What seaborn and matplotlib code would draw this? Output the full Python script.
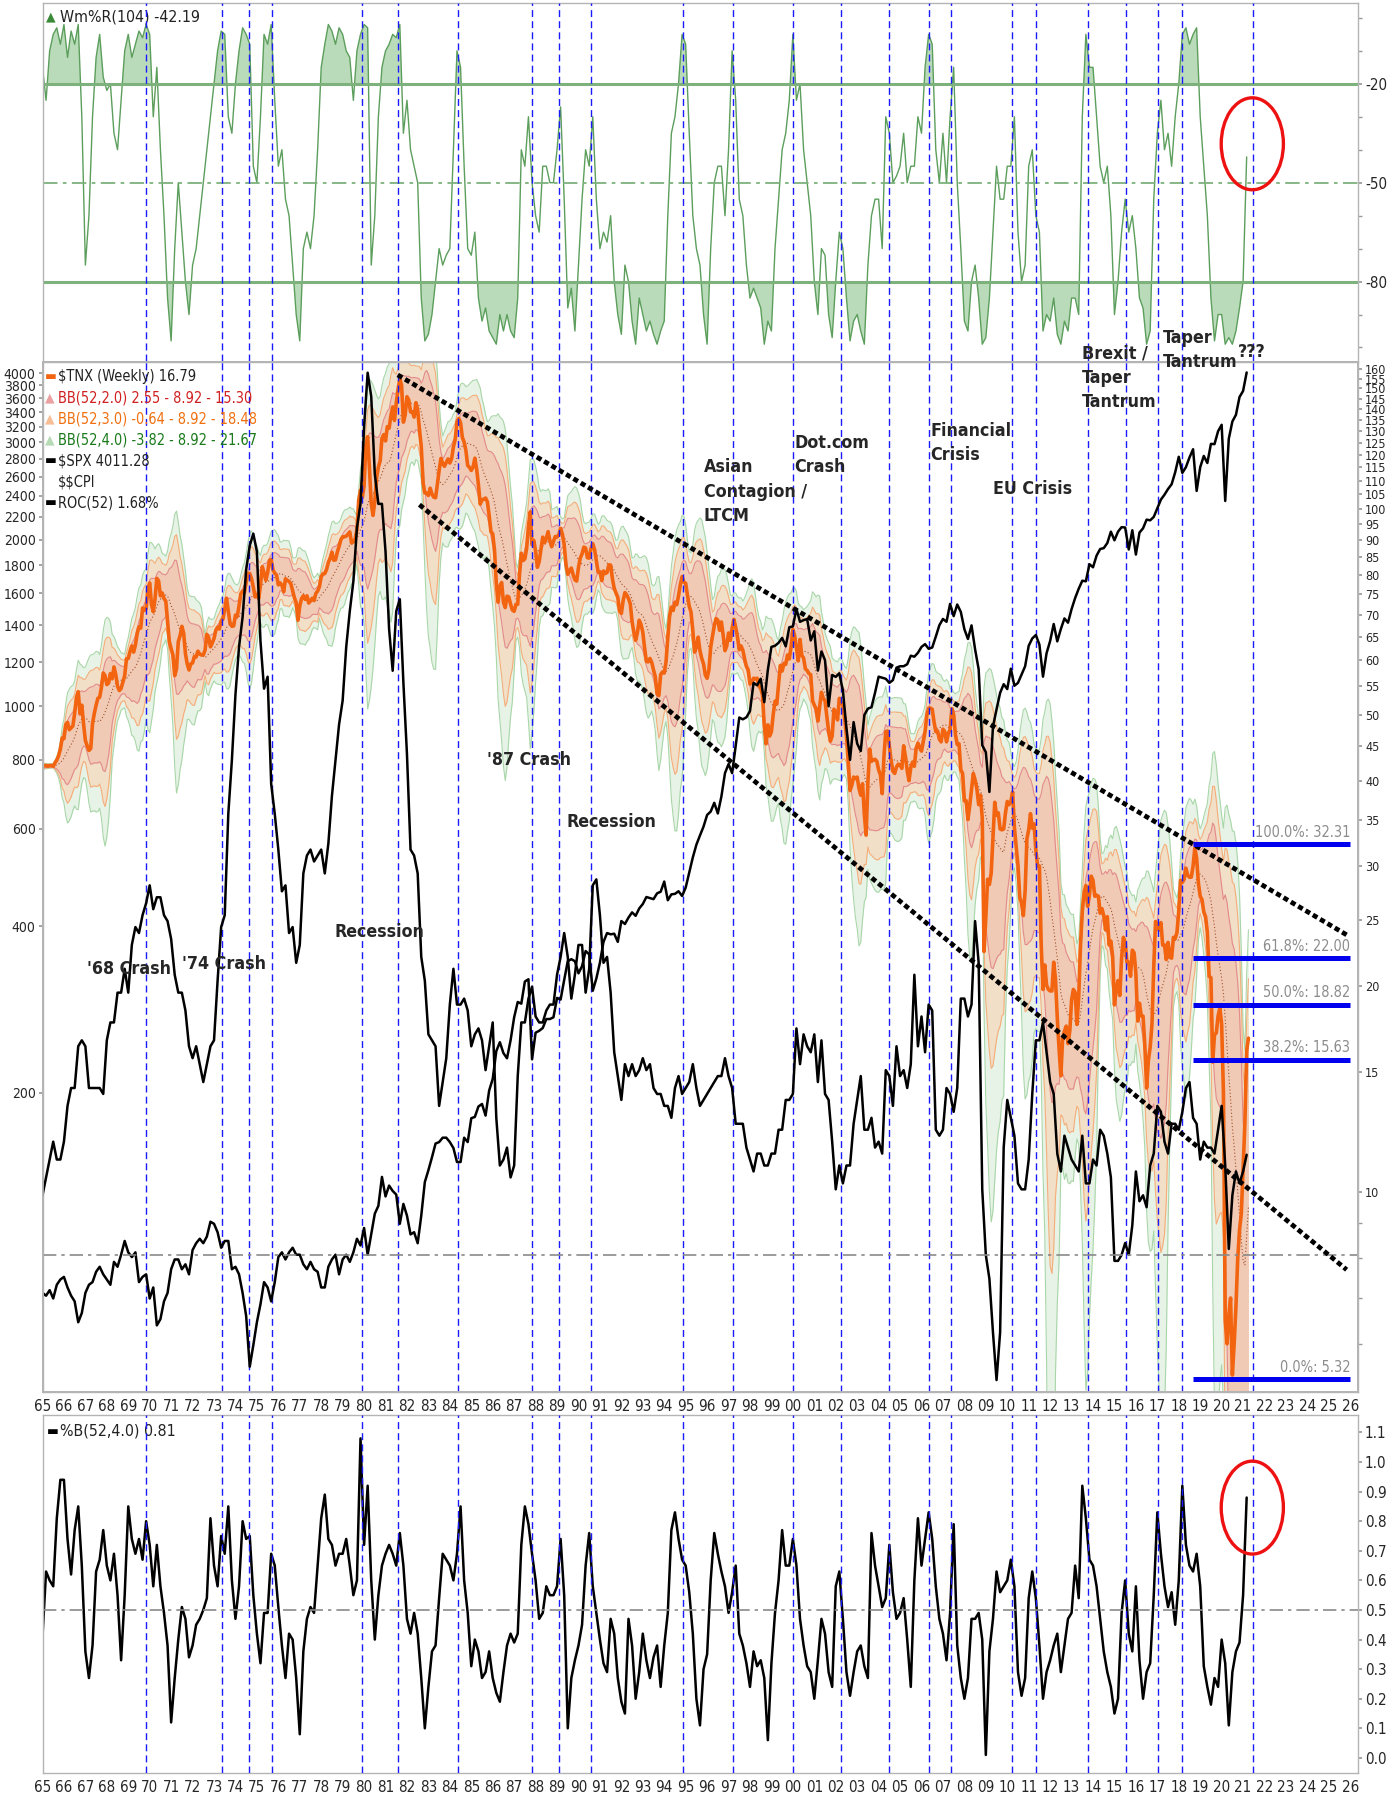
import numpy as np
import pandas as pd
import seaborn as sns
import matplotlib.pyplot as plt
import matplotlib.ticker as mticker
from matplotlib import font_manager
from matplotlib.patches import Ellipse

sns.set_theme(style="white")

# the original chart uses a squeezed sans; take the narrowest one installed
_fonts = font_manager.fontManager.ttflist
_names = {f.name for f in _fonts}
if 'Liberation Sans Narrow' in _names:
    NARROW_FAM, STRETCH, FS = 'Liberation Sans Narrow', 'normal', 1.0
elif any(f.name == 'DejaVu Sans' and f.stretch == 'condensed' for f in _fonts):
    NARROW_FAM, STRETCH, FS = 'DejaVu Sans', 'condensed', 0.95
else:
    NARROW_FAM, STRETCH, FS = 'Liberation Sans', 'normal', 0.92
plt.rcParams['font.family'] = [NARROW_FAM, 'DejaVu Sans']
plt.rcParams['font.stretch'] = STRETCH

# ---------------------------------------------------------------------------
# Data
# $TNX (10y yield x10), monthly from Jan 1965
tnx = [
    41.9, 42.1, 42.1, 42.0, 42.1, 42.1, 42.0, 42.5, 42.9, 43.5, 44.5, 46.2,
    46.1, 48.3, 48.7, 47.5, 47.8, 48.1, 50.2, 53.0, 54.0, 50.1, 51.6, 48.4,
    45.8, 45.0, 44.3, 44.6, 48.5, 50.2, 51.6, 52.8, 53.0, 54.8, 57.5, 57.0,
    55.3, 55.6, 57.4, 56.4, 58.7, 57.2, 55.0, 54.2, 54.6, 55.8, 57.0, 60.3,
    60.4, 61.9, 63.0, 61.7, 63.2, 65.7, 67.2, 66.9, 71.6, 71.0, 71.4, 76.5,
    77.9, 72.4, 70.7, 73.9, 79.1, 78.4, 74.6, 75.3, 73.9, 73.3, 68.4, 63.9,
    62.4, 61.1, 57.0, 58.3, 63.9, 65.2, 67.3, 65.8, 61.4, 59.3, 58.1, 59.3,
    59.5, 60.8, 60.7, 61.9, 61.3, 61.1, 61.1, 62.1, 65.5, 64.8, 62.8, 63.6,
    64.6, 66.4, 67.1, 66.7, 68.5, 69.0, 71.3, 74.0, 70.9, 67.9, 67.3, 67.4,
    69.9, 69.6, 72.1, 75.1, 75.8, 75.4, 78.1, 80.4, 80.4, 79.0, 76.8, 74.3,
    75.0, 73.9, 77.3, 82.3, 80.6, 78.6, 80.6, 84.0, 84.3, 81.4, 80.5, 80.0,
    77.4, 77.9, 77.3, 75.6, 79.0, 78.6, 78.3, 77.7, 75.9, 74.1, 72.9, 68.7,
    72.1, 73.9, 74.6, 73.7, 74.6, 72.8, 73.3, 74.0, 73.4, 75.2, 75.8, 76.9,
    79.6, 80.3, 80.4, 81.5, 83.5, 84.6, 86.4, 84.1, 84.2, 86.4, 88.1, 90.1,
    91.0, 91.0, 91.2, 91.8, 92.5, 89.1, 89.5, 90.3, 93.3, 103.0, 106.5, 103.9,
    108.0, 124.1, 127.5, 114.7, 101.8, 97.8, 102.5, 111.0, 115.1, 117.5, 126.8, 128.4,
    125.7, 131.9, 131.2, 136.8, 141.0, 134.7, 142.8, 149.4, 155.0, 151.5, 133.9, 137.2,
    145.9, 144.3, 138.6, 138.7, 136.2, 143.0, 139.5, 130.6, 123.4, 109.1, 105.5, 105.4,
    104.6, 107.2, 105.1, 104.0, 103.8, 108.5, 113.8, 118.5, 116.5, 115.4, 116.9, 118.3,
    116.7, 118.4, 123.2, 126.3, 134.1, 135.6, 133.6, 127.2, 125.2, 121.6, 115.7, 115.0,
    113.8, 115.1, 118.6, 114.3, 108.5, 101.6, 103.1, 103.3, 103.7, 102.4, 97.8, 92.6,
    91.9, 87.0, 77.8, 73.0, 77.1, 78.0, 73.0, 71.7, 74.5, 74.3, 72.5, 71.1,
    70.8, 72.5, 72.5, 80.2, 86.1, 84.0, 84.5, 87.6, 94.2, 99.0, 88.6, 89.9,
    86.7, 82.1, 83.7, 87.2, 90.9, 89.2, 90.6, 92.6, 89.8, 88.0, 89.6, 91.1,
    90.9, 91.7, 93.6, 91.8, 88.6, 82.8, 80.2, 81.1, 81.9, 80.1, 78.7, 78.4,
    82.1, 84.7, 85.9, 87.9, 87.6, 84.8, 84.7, 87.5, 88.9, 87.2, 83.9, 80.8,
    80.9, 78.5, 81.1, 80.4, 80.7, 82.8, 82.7, 79.0, 76.5, 75.3, 74.2, 70.9,
    70.3, 73.4, 75.4, 74.8, 73.9, 72.6, 68.4, 65.9, 64.2, 65.9, 68.7, 67.7,
    66.0, 62.6, 59.8, 59.7, 60.4, 59.6, 58.1, 56.8, 53.6, 53.3, 57.2, 57.7,
    57.5, 59.7, 64.8, 69.7, 71.8, 71.0, 73.0, 72.4, 74.6, 77.4, 79.6, 78.1,
    77.8, 74.7, 72.0, 70.6, 66.3, 61.7, 62.8, 64.9, 62.0, 60.4, 59.3, 57.1,
    56.5, 58.1, 62.7, 65.1, 67.4, 69.1, 68.7, 66.4, 68.3, 65.3, 62.0, 63.0,
    65.8, 64.2, 66.9, 68.9, 67.1, 64.9, 62.2, 63.0, 62.1, 60.3, 58.8, 58.1,
    55.4, 55.7, 56.5, 56.4, 56.5, 55.0, 54.6, 53.4, 48.1, 45.3, 48.3, 46.5,
    47.2, 50.0, 52.3, 51.8, 55.4, 59.0, 57.9, 59.4, 59.2, 61.1, 60.3, 62.8,
    66.6, 65.2, 62.6, 59.9, 64.4, 61.0, 60.5, 58.3, 58.0, 57.4, 57.2, 52.4,
    51.6, 51.0, 48.9, 51.4, 53.9, 52.8, 52.4, 49.7, 47.3, 45.7, 46.5, 50.9,
    50.4, 49.1, 52.8, 52.1, 51.6, 49.3, 46.5, 42.6, 38.7, 39.4, 40.5, 40.3,
    40.5, 39.0, 38.1, 39.6, 35.7, 33.3, 39.8, 44.5, 42.7, 42.9, 43.0, 42.7,
    41.5, 40.8, 38.3, 43.5, 47.2, 47.3, 45.0, 42.8, 41.3, 41.0, 41.9, 42.3,
    42.2, 41.7, 45.0, 43.4, 41.4, 40.0, 41.8, 42.6, 42.0, 44.6, 45.4, 44.7,
    44.2, 45.7, 47.2, 49.9, 51.1, 51.1, 50.9, 48.8, 47.2, 47.3, 46.0, 45.6,
    47.6, 47.2, 45.6, 46.9, 47.5, 51.0, 50.0, 46.7, 45.2, 45.3, 41.5, 41.0,
    37.4, 37.4, 35.1, 36.8, 38.8, 41.0, 40.1, 38.9, 36.9, 38.1, 35.3, 22.5,
    25.2, 28.7, 28.2, 29.3, 32.9, 37.2, 35.6, 35.9, 34.0, 33.9, 34.0, 35.9,
    37.3, 36.9, 37.3, 38.5, 34.2, 32.0, 30.1, 27.0, 26.5, 25.4, 27.6, 32.9,
    33.9, 35.8, 34.1, 34.6, 31.7, 30.0, 30.0, 23.0, 19.8, 21.5, 20.1, 19.8,
    19.7, 19.7, 21.7, 20.5, 18.0, 16.2, 14.8, 16.8, 17.2, 17.5, 16.5, 17.2,
    19.1, 19.8, 19.6, 17.6, 19.3, 23.0, 25.8, 27.4, 28.1, 26.2, 27.2, 29.0,
    28.6, 27.1, 27.2, 27.1, 25.6, 26.0, 25.4, 24.2, 25.3, 23.0, 23.3, 22.1,
    18.8, 19.8, 20.4, 19.4, 22.0, 23.6, 23.2, 21.7, 21.7, 20.7, 22.6, 22.4,
    20.9, 17.8, 18.9, 18.1, 18.1, 16.4, 14.2, 15.6, 16.3, 17.6, 21.4, 24.9,
    24.3, 24.2, 24.8, 23.0, 23.0, 21.9, 23.2, 22.1, 22.0, 23.6, 23.5, 24.0,
    25.8, 28.6, 28.4, 28.7, 29.8, 29.1, 28.9, 28.9, 30.0, 31.9, 30.8, 28.3,
    27.1, 26.8, 25.7, 25.3, 24.0, 20.7, 20.6, 15.5, 17.0, 17.1, 18.1, 18.6,
    17.6, 14.0, 6.5, 6.0, 6.6, 7.0, 5.4, 6.0, 6.8, 8.0, 8.8, 9.3,
    10.8, 12.6, 16.1, 16.8,
]

# $SPX, every two months from Jan 1965
spx = [
    87, 86, 88, 85, 90, 92,
    93, 89, 86, 84, 77, 80,
    87, 90, 91, 95, 97, 94,
    92, 90, 99, 97, 102, 108,
    103, 101, 103, 91, 93, 94,
    85, 89, 76, 78, 84, 87,
    96, 100, 100, 96, 98, 94,
    104, 107, 109, 107, 110, 117,
    116, 112, 105, 108, 108, 96,
    97, 94, 87, 79, 64, 70,
    77, 83, 91, 89, 84, 91,
    101, 103, 100, 103, 105, 102,
    102, 98, 96, 99, 96, 95,
    89, 89, 97, 100, 102, 94,
    100, 102, 99, 103, 109, 106,
    114, 102, 111, 121, 125, 141,
    130, 136, 133, 131, 116, 126,
    120, 111, 112, 107, 120, 138,
    145, 153, 162, 163, 166, 166,
    163, 159, 150, 150, 166, 163,
    180, 181, 189, 191, 182, 202,
    212, 238, 247, 236, 231, 249,
    274, 292, 290, 318, 321, 230,
    257, 259, 262, 272, 272, 274,
    297, 295, 320, 346, 349, 346,
    329, 339, 361, 356, 306, 322,
    344, 375, 389, 387, 388, 375,
    409, 404, 415, 424, 418, 431,
    439, 452, 450, 448, 459, 462,
    482, 446, 457, 458, 463, 454,
    470, 501, 533, 562, 584, 606,
    636, 645, 669, 640, 687, 757,
    786, 757, 848, 954, 947, 955,
    980, 1102, 1091, 1121, 1017, 1164,
    1280, 1286, 1302, 1329, 1283, 1389,
    1394, 1499, 1421, 1431, 1437, 1315,
    1366, 1160, 1256, 1211, 1000, 1139,
    1130, 1147, 1067, 912, 800, 936,
    856, 830, 964, 990, 996, 1058,
    1131, 1126, 1121, 1102, 1115, 1174,
    1181, 1181, 1191, 1234, 1229, 1249,
    1280, 1295, 1270, 1277, 1336, 1401,
    1438, 1421, 1531, 1455, 1527, 1481,
    1378, 1323, 1400, 1267, 1166, 850,
    826, 700, 919, 987, 1057, 1096,
    1074, 1169, 1089, 1102, 1141, 1181,
    1286, 1326, 1345, 1292, 1131, 1247,
    1312, 1408, 1310, 1379, 1441, 1416,
    1498, 1569, 1631, 1686, 1682, 1806,
    1783, 1872, 1924, 1931, 1972, 2068,
    1995, 2068, 2107, 2104, 1920, 2080,
    1880, 2060, 2097, 2174, 2168, 2199,
    2279, 2363, 2412, 2470, 2519, 2648,
    2824, 2641, 2705, 2816, 2914, 2450,
    2704, 2834, 2752, 2980, 2977, 3141,
    3226, 2350, 3044, 3271, 3363, 3622,
    3714, 4011.28,
]

# $$CPI ROC(52) in %, every two months from Jan 1965
cpi_roc = [
    1.0, 1.3, 1.6, 1.9, 1.6, 1.6,
    1.9, 2.5, 2.8, 2.8, 3.5, 3.6,
    3.5, 2.8, 2.8, 2.8, 2.8, 2.7,
    3.6, 3.9, 3.9, 4.4, 4.4, 4.8,
    4.4, 5.2, 5.5, 5.4, 5.7, 5.9,
    6.2, 5.8, 6.0, 6.0, 5.7, 5.6,
    5.3, 4.7, 4.4, 4.4, 4.1, 3.5,
    3.3, 3.5, 3.2, 2.9, 3.2, 3.5,
    3.6, 4.6, 5.5, 5.7, 7.4, 8.3,
    9.4, 10.2, 10.7, 11.5, 11.9, 12.1,
    11.8, 10.3, 9.5, 9.7, 7.9, 7.4,
    6.8, 6.1, 6.2, 5.4, 5.5, 4.9,
    5.2, 6.4, 6.7, 6.8, 6.6, 6.7,
    6.8, 6.4, 6.9, 7.7, 8.3, 8.9,
    9.3, 10.2, 10.8, 11.3, 12.2, 12.6,
    13.9, 14.8, 14.4, 13.1, 12.6, 12.6,
    11.8, 10.5, 9.8, 10.8, 11.0, 9.6,
    8.4, 6.8, 6.7, 6.4, 5.0, 4.6,
    3.7, 3.6, 3.5, 2.5, 2.9, 3.3,
    4.2, 4.8, 4.2, 4.2, 4.3, 4.1,
    3.5, 3.7, 3.8, 3.6, 3.1, 3.5,
    3.9, 2.3, 1.5, 1.6, 1.8, 1.3,
    1.5, 3.0, 3.9, 3.9, 4.3, 4.5,
    4.0, 3.9, 3.9, 4.1, 4.2, 4.2,
    4.7, 5.0, 5.4, 5.0, 4.3, 4.7,
    5.2, 5.2, 4.4, 4.8, 6.2, 6.3,
    5.7, 4.9, 5.0, 4.4, 3.4, 3.0,
    2.6, 3.2, 3.0, 3.2, 3.0, 3.1,
    3.3, 3.1, 3.2, 2.8, 2.7, 2.7,
    2.5, 2.5, 2.3, 2.8, 3.0, 2.7,
    2.8, 2.9, 3.2, 2.8, 2.5, 2.6,
    2.7, 2.8, 2.9, 3.0, 3.0, 3.3,
    3.0, 2.8, 2.2, 2.2, 2.2, 1.8,
    1.6, 1.4, 1.7, 1.7, 1.5, 1.5,
    1.7, 1.7, 2.1, 2.1, 2.6, 2.6,
    2.7, 3.8, 3.2, 3.7, 3.5, 3.4,
    3.7, 2.9, 3.6, 2.7, 2.6, 1.9,
    1.1, 1.5, 1.2, 1.5, 1.5, 2.2,
    2.6, 3.0, 2.1, 2.1, 2.3, 1.8,
    1.9, 1.7, 3.1, 3.0, 2.5, 3.5,
    3.0, 3.1, 2.8, 3.2, 4.7, 3.5,
    4.0, 3.4, 4.2, 4.1, 2.1, 2.0,
    2.1, 2.8, 2.7, 2.4, 2.8, 4.3,
    4.3, 4.0, 4.2, 5.6, 4.9, 1.1,
    0.0, -0.4, -1.3, -2.1, -1.3, 1.8,
    2.6, 2.3, 2.0, 1.2, 1.1, 1.1,
    1.6, 2.7, 3.6, 3.6, 3.9, 3.4,
    2.9, 2.7, 1.7, 1.4, 2.0, 1.8,
    1.6, 1.5, 1.4, 2.0, 1.2, 1.2,
    1.6, 1.5, 2.1, 2.0, 1.7, 1.3,
    -0.1, -0.1, 0.0, 0.2, 0.0, 0.5,
    1.4, 0.9, 1.0, 0.8, 1.5, 1.7,
    2.5, 2.4, 1.9, 1.7, 2.2, 2.2,
    2.1, 2.4, 2.8, 2.9, 2.3, 2.2,
    1.6, 1.9, 1.8, 1.8, 1.7, 2.1,
    2.5, 1.5, 0.1, 1.0, 1.4, 1.2,
    1.4, 1.68,
]

# Wm%R(104), every two months from Jan 1965
wm_r = [
    -15, -25, -10, -5, -3, -8,
    -2, -12, -4, -8, -2, -30,
    -75, -60, -30, -12, -5, -18,
    -22, -20, -35, -40, -25, -10,
    -5, -12, -8, -4, -6, -2,
    -5, -30, -15, -40, -60, -85,
    -98, -70, -50, -65, -80, -90,
    -75, -70, -60, -50, -40, -30,
    -20, -10, -4, -5, -30, -35,
    -20, -10, -3, -5, -8, -45,
    -50, -30, -5, -8, -2, -25,
    -45, -40, -55, -60, -75, -90,
    -98, -70, -65, -70, -60, -40,
    -15, -8, -2, -4, -8, -3,
    -5, -10, -12, -25, -10, -5,
    -2, -3, -75, -60, -30, -15,
    -10, -8, -5, -6, -2, -35,
    -25, -40, -45, -50, -85, -98,
    -96, -90, -80, -70, -75, -72,
    -70, -40, -10, -15, -45, -70,
    -72, -65, -85, -92, -88, -95,
    -97, -99, -90, -95, -90, -95,
    -97, -85, -40, -45, -30, -50,
    -60, -65, -45, -45, -50, -50,
    -40, -27, -55, -88, -82, -95,
    -75, -55, -40, -45, -30, -55,
    -70, -65, -68, -60, -80, -90,
    -96, -75, -80, -92, -99, -85,
    -90, -95, -92, -96, -99, -95,
    -92, -60, -35, -30, -20, -5,
    -8, -35, -60, -70, -75, -90,
    -99, -70, -50, -45, -45, -60,
    -40, -10, -25, -55, -60, -75,
    -85, -82, -85, -88, -99, -92,
    -95, -70, -55, -40, -35, -25,
    -5, -25, -20, -40, -50, -60,
    -80, -90, -70, -72, -90, -97,
    -80, -65, -70, -85, -98, -92,
    -90, -95, -99, -75, -60, -55,
    -55, -70, -30, -35, -50, -48,
    -45, -35, -50, -45, -45, -30,
    -35, -15, -5, -8, -40, -50,
    -35, -50, -30, -15, -50, -70,
    -92, -95, -80, -75, -85, -99,
    -97, -85, -65, -45, -55, -55,
    -45, -45, -30, -65, -80, -75,
    -45, -40, -60, -65, -95, -90,
    -92, -85, -96, -99, -92, -95,
    -85, -85, -90, -30, -5, -15,
    -15, -30, -45, -50, -45, -60,
    -90, -80, -65, -55, -65, -60,
    -70, -85, -88, -99, -95, -55,
    -35, -25, -40, -35, -45, -30,
    -20, -5, -3, -8, -5, -3,
    -30, -45, -60, -85, -98, -90,
    -90, -99, -97, -99, -95, -88,
    -80, -42.19,
]

# %B(52,4.0), every two months from Jan 1965
pct_b = [
    0.41, 0.63, 0.60, 0.58, 0.81, 0.94,
    0.94, 0.74, 0.62, 0.77, 0.85, 0.65,
    0.36, 0.27, 0.38, 0.63, 0.67, 0.77,
    0.65, 0.60, 0.69, 0.55, 0.33, 0.55,
    0.85, 0.74, 0.69, 0.74, 0.67, 0.80,
    0.72, 0.58, 0.72, 0.58, 0.49, 0.38,
    0.12, 0.27, 0.40, 0.51, 0.47, 0.34,
    0.38, 0.45, 0.47, 0.50, 0.54, 0.81,
    0.65, 0.58, 0.75, 0.69, 0.85, 0.60,
    0.47, 0.58, 0.80, 0.74, 0.75, 0.55,
    0.42, 0.32, 0.49, 0.49, 0.69, 0.65,
    0.51, 0.38, 0.27, 0.42, 0.40, 0.27,
    0.08, 0.36, 0.47, 0.51, 0.49, 0.65,
    0.81, 0.89, 0.74, 0.72, 0.65, 0.69,
    0.69, 0.74, 0.65, 0.55, 0.60, 1.08,
    0.72, 0.92, 0.60, 0.40, 0.55, 0.65,
    0.69, 0.72, 0.69, 0.65, 0.76, 0.65,
    0.47, 0.42, 0.49, 0.42, 0.27, 0.10,
    0.24, 0.36, 0.38, 0.54, 0.69, 0.67,
    0.65, 0.60, 0.69, 0.85, 0.60, 0.49,
    0.31, 0.40, 0.36, 0.27, 0.29, 0.36,
    0.27, 0.22, 0.19, 0.29, 0.38, 0.42,
    0.39, 0.42, 0.72, 0.85, 0.79, 0.69,
    0.60, 0.47, 0.49, 0.58, 0.55, 0.55,
    0.58, 0.74, 0.55, 0.10, 0.27, 0.33,
    0.38, 0.45, 0.65, 0.76, 0.58, 0.49,
    0.40, 0.32, 0.29, 0.47, 0.42, 0.27,
    0.19, 0.15, 0.47, 0.38, 0.20, 0.29,
    0.42, 0.33, 0.27, 0.34, 0.38, 0.24,
    0.38, 0.49, 0.77, 0.83, 0.74, 0.67,
    0.65, 0.56, 0.42, 0.20, 0.11, 0.30,
    0.35, 0.60, 0.76, 0.69, 0.63, 0.58,
    0.49, 0.56, 0.65, 0.42, 0.38, 0.32,
    0.24, 0.36, 0.31, 0.33, 0.27, 0.06,
    0.32, 0.49, 0.60, 0.77, 0.65, 0.65,
    0.74, 0.65, 0.47, 0.38, 0.31, 0.29,
    0.20, 0.33, 0.47, 0.42, 0.29, 0.24,
    0.58, 0.63, 0.47, 0.29, 0.21, 0.29,
    0.36, 0.38, 0.31, 0.27, 0.76, 0.65,
    0.58, 0.51, 0.54, 0.72, 0.56, 0.47,
    0.49, 0.54, 0.40, 0.24, 0.60, 0.81,
    0.65, 0.74, 0.83, 0.74, 0.58, 0.47,
    0.42, 0.33, 0.49, 0.79, 0.38, 0.27,
    0.20, 0.27, 0.47, 0.47, 0.49, 0.40,
    0.01, 0.36, 0.47, 0.63, 0.56, 0.58,
    0.60, 0.67, 0.58, 0.29, 0.21, 0.27,
    0.54, 0.63, 0.54, 0.38, 0.20, 0.29,
    0.33, 0.38, 0.42, 0.29, 0.38, 0.47,
    0.49, 0.65, 0.54, 0.92, 0.81, 0.67,
    0.65, 0.58, 0.47, 0.36, 0.29, 0.24,
    0.15, 0.20, 0.49, 0.60, 0.42, 0.36,
    0.58, 0.33, 0.20, 0.29, 0.32, 0.55,
    0.83, 0.69, 0.58, 0.51, 0.56, 0.45,
    0.60, 0.92, 0.72, 0.65, 0.63, 0.69,
    0.58, 0.31, 0.24, 0.18, 0.27, 0.24,
    0.40, 0.32, 0.11, 0.29, 0.36, 0.39,
    0.55, 0.88,
]

# marked TNX peaks (blue dashed verticals), decimal years
event_years = [1969.81, 1973.37, 1974.65, 1975.69, 1979.9, 1981.57, 1984.4,
               1987.85, 1989.11, 1990.58, 1994.88, 1997.19, 2000.0, 2002.24,
               2004.5, 2006.35, 2007.37, 2010.23, 2011.34, 2013.78, 2015.53,
               2017.02, 2018.13, 2021.45]

# text notes: (left year, TNX level, text, vertical anchor)
notes = [
    (1967.06, 21.2, "'68 Crash", 'center'),
    (1971.49, 21.6, "'74 Crash", 'center'),
    (1978.61, 24.05, "Recession", 'center'),
    (1985.75, 42.9, "'87 Crash", 'center'),
    (1989.42, 34.85, "Recession", 'center'),
    (1995.85, 118.5, "Asian\nContagion /\nLTCM", 'top'),
    (2000.07, 128.8, "Dot.com\nCrash", 'top'),
    (2006.43, 134.2, "Financial\nCrisis", 'top'),
    (2009.32, 106.8, "EU Crisis", 'center'),
    (2013.47, 174.0, "Brexit /\nTaper\nTantrum", 'top'),
    (2017.26, 183.5, "Taper\nTantrum", 'top'),
    (2020.75, 169.5, "???", 'center'),
]

# Fibonacci retracement of the 2018 high to the 2020 low
fib_labels = ['100.0%', '61.8%', '50.0%', '38.2%', '0.0%']
fib_values = [32.31, 22.00, 18.82, 15.63, 5.32]
fib_span = [2018.68, 2026.0]

# channel lines on $TNX
trend_upper_years = [1981.57, 2025.83]
trend_upper_tnx = [157.0, 23.8]
trend_lower_years = [1982.58, 2025.83]
trend_lower_tnx = [101.4, 7.7]

# ---------------------------------------------------------------------------


def decimal_year(dates):
    return dates.year + (dates.month - 1) / 12.0


tnx_x = decimal_year(pd.date_range('1965-01-01', periods=len(tnx), freq='MS'))
bi_x = decimal_year(pd.date_range('1965-01-01', periods=len(spx), freq='2MS'))

df_tnx = pd.DataFrame({'year': tnx_x, 'tnx': tnx})
roll = df_tnx['tnx'].rolling(12, min_periods=1)
df_tnx['mid'] = roll.mean()
df_tnx['sd'] = roll.std(ddof=0).fillna(0)
for k in (2, 3, 4):
    df_tnx[f'up{k}'] = df_tnx['mid'] + k * df_tnx['sd']
    df_tnx[f'lo{k}'] = np.clip(df_tnx['mid'] - k * df_tnx['sd'], 1.0, None)

df_bi = pd.DataFrame({'year': bi_x, 'spx': spx, 'roc': cpi_roc,
                      'wmr': wm_r, 'pctb': pct_b})

XLIM = (1965.0, 2026.36)
SPINE = '#b4b4b4'
BLUE = '#1a1aff'
years = np.arange(1965, 2027)
year_labels = [f"{y % 100:02d}" for y in years]

fig = plt.figure(figsize=(13.93, 18), dpi=100)
L, W = 42.5 / 1393, (1358 - 42.5) / 1393


def frame(top, bottom):
    return [L, 1 - bottom / 1800, W, (bottom - top) / 1800]


ax_top = fig.add_axes(frame(3, 361))
ax_mid = fig.add_axes(frame(362, 1392))
ax_bot = fig.add_axes(frame(1415, 1773))

for ax in (ax_top, ax_mid, ax_bot):
    ax.set_xlim(*XLIM)
    ax.set_xticks(years)
    for s in ax.spines.values():
        s.set_color(SPINE)
        s.set_linewidth(1.0)
    ax.tick_params(axis='both', which='both', direction='out', length=3,
                   color='#999999', labelsize=11.5 * FS, pad=2)
    for yr in event_years:
        ax.axvline(yr, color=BLUE, lw=1.0, ls=(0, (5, 3)), zorder=6)

# ---- top: Williams %R -------------------------------------------------------
GREEN = '#5c9e5c'
ax_top.set_ylim(-104.1, 4.52)
ax_top.fill_between(df_bi['year'], df_bi['wmr'], -20, where=df_bi['wmr'] >= -20,
                    interpolate=True, color='#a9d3a9', alpha=0.8, lw=0)
ax_top.fill_between(df_bi['year'], df_bi['wmr'], -80, where=df_bi['wmr'] <= -80,
                    interpolate=True, color='#a9d3a9', alpha=0.8, lw=0)
sns.lineplot(data=df_bi, x='year', y='wmr', ax=ax_top, color=GREEN, lw=1.0,
             estimator=None, legend=False)
ax_top.axhline(-20, color='#7db27d', lw=2.2)
ax_top.axhline(-80, color='#7db27d', lw=2.2)
ax_top.axhline(-50, color='#7db27d', lw=1.3, ls=(0, (8, 3, 2, 3)))
ax_top.yaxis.tick_right()
ax_top.set_yticks([-20, -50, -80])
ax_top.set_yticklabels(['-20', '-50', '-80'])
ax_top.yaxis.set_minor_locator(mticker.FixedLocator(np.arange(-100, 1, 10)))
ax_top.tick_params(axis='x', labelbottom=False, length=0)
ax_top.spines['bottom'].set_visible(False)
ax_top.set_xlabel('')
ax_top.set_ylabel('')
ax_top.text(0.003, 0.962, '▲', color='#3a8a3a', fontsize=9, transform=ax_top.transAxes,
            va='center', family=['DejaVu Sans'], fontstretch='normal')
ax_top.text(0.013, 0.962, 'Wm%R(104) -42.19', fontsize=12 * FS, transform=ax_top.transAxes,
            va='center', color='#222222')
ax_top.add_patch(Ellipse((2021.43, -38.2), 2.9, 27.9, fill=False,
                         edgecolor='#ee1111', lw=2.4, zorder=8))

# ---- middle: $TNX with Bollinger bands, $SPX, CPI ROC -----------------------
ax_mid.set_yscale('log')
ax_mid.set_ylim(5.10, 164)
ax_mid.fill_between(df_tnx['year'], df_tnx['lo4'], df_tnx['up4'], color='#d9eed9',
                    alpha=0.65, lw=0)
ax_mid.fill_between(df_tnx['year'], df_tnx['lo3'], df_tnx['up3'], color='#fad3b4',
                    alpha=0.6, lw=0)
ax_mid.fill_between(df_tnx['year'], df_tnx['lo2'], df_tnx['up2'], color='#f0b2a0',
                    alpha=0.45, lw=0)
for k, c in ((4, '#a9d6a9'), (3, '#f5ad7a'), (2, '#e38a8a')):
    ax_mid.plot(df_tnx['year'], df_tnx[f'up{k}'], color=c, lw=0.8)
    ax_mid.plot(df_tnx['year'], df_tnx[f'lo{k}'], color=c, lw=0.8)
ax_mid.plot(df_tnx['year'], df_tnx['mid'], color='#a0522d', lw=0.8, ls=(0, (1, 2)))
sns.lineplot(data=df_tnx, x='year', y='tnx', ax=ax_mid, color='#f26410', lw=2.6,
             estimator=None, legend=False)

tnx_ticks = list(range(10, 165, 5))
ax_mid.yaxis.set_major_locator(mticker.FixedLocator(tnx_ticks))
ax_mid.yaxis.set_major_formatter(mticker.FixedFormatter([str(t) for t in tnx_ticks]))
ax_mid.yaxis.set_minor_locator(mticker.FixedLocator([6, 7, 8, 9]))
ax_mid.yaxis.set_minor_formatter(mticker.NullFormatter())
ax_mid.set_xticklabels(year_labels)
ax_mid.set_xlabel('')
ax_mid.set_ylabel('')

ax_spx = ax_mid.twinx()
ax_spx.set_yscale('log')
ax_spx.set_ylim(57.6, 4190)
sns.lineplot(data=df_bi, x='year', y='spx', ax=ax_spx, color='black', lw=1.8,
             estimator=None, legend=False)
spx_ticks = [200, 400, 600, 800] + list(range(1000, 4001, 200))
ax_spx.yaxis.set_major_locator(mticker.FixedLocator(spx_ticks))
ax_spx.yaxis.set_major_formatter(mticker.FixedFormatter([str(t) for t in spx_ticks]))
ax_spx.yaxis.set_minor_locator(mticker.NullLocator())
ax_spx.set_ylabel('')

ax_roc = ax_mid.twinx()
ax_roc.set_ylim(-2.30, 14.98)
sns.lineplot(data=df_bi, x='year', y='roc', ax=ax_roc, color='black', lw=1.8,
             estimator=None, legend=False)
ax_roc.axhline(0, color='#8a8a8a', lw=1.2, ls=(0, (8, 3, 2, 3)))
ax_roc.yaxis.set_visible(False)
ax_roc.set_ylabel('')

# put the tick sides back after twinx
ax_mid.yaxis.tick_right()
ax_spx.yaxis.tick_left()
ax_mid.tick_params(axis='y', which='both', direction='out', length=3, color='#999999',
                   labelsize=9.5 * FS, pad=2)
ax_spx.tick_params(axis='y', which='both', direction='out', length=3, color='#999999',
                   labelsize=10.5 * FS, pad=2)
for a in (ax_spx, ax_roc):
    for s in a.spines.values():
        s.set_color(SPINE)

tnx_tr = ax_mid.transData
ax_roc.plot(trend_upper_years, trend_upper_tnx, transform=tnx_tr, color='black',
            lw=3.4, ls=(0, (1.1, 0.7)), zorder=7)
ax_roc.plot(trend_lower_years, trend_lower_tnx, transform=tnx_tr, color='black',
            lw=3.4, ls=(0, (1.1, 0.7)), zorder=7)
for lab, val in zip(fib_labels, fib_values):
    ax_roc.plot(fib_span, [val, val], transform=tnx_tr, color='#0000ee', lw=3.6,
                solid_capstyle='butt', zorder=7)
    ax_roc.annotate(f'{lab}: {val:.2f}', xy=(fib_span[1], val), xycoords=tnx_tr,
                    xytext=(0, 3), textcoords='offset points', ha='right', va='bottom',
                    fontsize=11 * FS, color='#8c8c8c')
for yr, lvl, txt, va in notes:
    ax_roc.text(yr, lvl, txt, transform=tnx_tr, ha='left', va=va, fontsize=13.5 * FS,
                fontweight='bold', linespacing=1.45, clip_on=False, zorder=9)

legend_rows = [
    ('▬', '#f26410', '$TNX (Weekly) 16.79', '#222222'),
    ('▲', '#eaa0a0', 'BB(52,2.0) 2.55 - 8.92 - 15.30', '#d02020'),
    ('▲', '#f7be96', 'BB(52,3.0) -0.64 - 8.92 - 18.48', '#f07010'),
    ('▲', '#b5dab5', 'BB(52,4.0) -3.82 - 8.92 - 21.67', '#1a7a1a'),
    ('▬', 'black', '$SPX 4011.28', '#222222'),
    ('', 'black', '$$CPI', '#222222'),
    ('▬', 'black', 'ROC(52) 1.68%', '#222222'),
]
for i, (mk, mc, txt, tc) in enumerate(legend_rows):
    yy = 0.9857 - i * 0.0204
    if mk:
        ax_roc.text(0.002, yy, mk, color=mc, fontsize=9, transform=ax_roc.transAxes,
                    va='center', family=['DejaVu Sans'], fontstretch='normal',
                    parse_math=False, zorder=9)
    ax_roc.text(0.012, yy, txt, color=tc, fontsize=11 * FS, transform=ax_roc.transAxes,
                va='center', parse_math=False, zorder=9)

# ---- bottom: %B ---------------------------------------------------------------
ax_bot.set_ylim(-0.051, 1.159)
sns.lineplot(data=df_bi, x='year', y='pctb', ax=ax_bot, color='black', lw=1.8,
             estimator=None, legend=False)
ax_bot.axhline(0.5, color='#8a8a8a', lw=1.2, ls=(0, (8, 3, 2, 3)))
ax_bot.yaxis.tick_right()
b_ticks = np.round(np.arange(0, 1.11, 0.1), 1)
ax_bot.set_yticks(b_ticks)
ax_bot.set_yticklabels([f'{t:.1f}' for t in b_ticks])
ax_bot.set_xticklabels(year_labels)
ax_bot.set_xlabel('')
ax_bot.set_ylabel('')
ax_bot.text(0.003, 0.955, '▬', color='black', fontsize=9, transform=ax_bot.transAxes,
            va='center', family=['DejaVu Sans'], fontstretch='normal')
ax_bot.text(0.013, 0.955, '%B(52,4.0) 0.81', fontsize=12 * FS, transform=ax_bot.transAxes,
            va='center', color='#222222')
ax_bot.add_patch(Ellipse((2021.43, 0.846), 2.9, 0.314, fill=False,
                         edgecolor='#ee1111', lw=2.4, zorder=8))

fig.savefig('out.png', dpi=100)
